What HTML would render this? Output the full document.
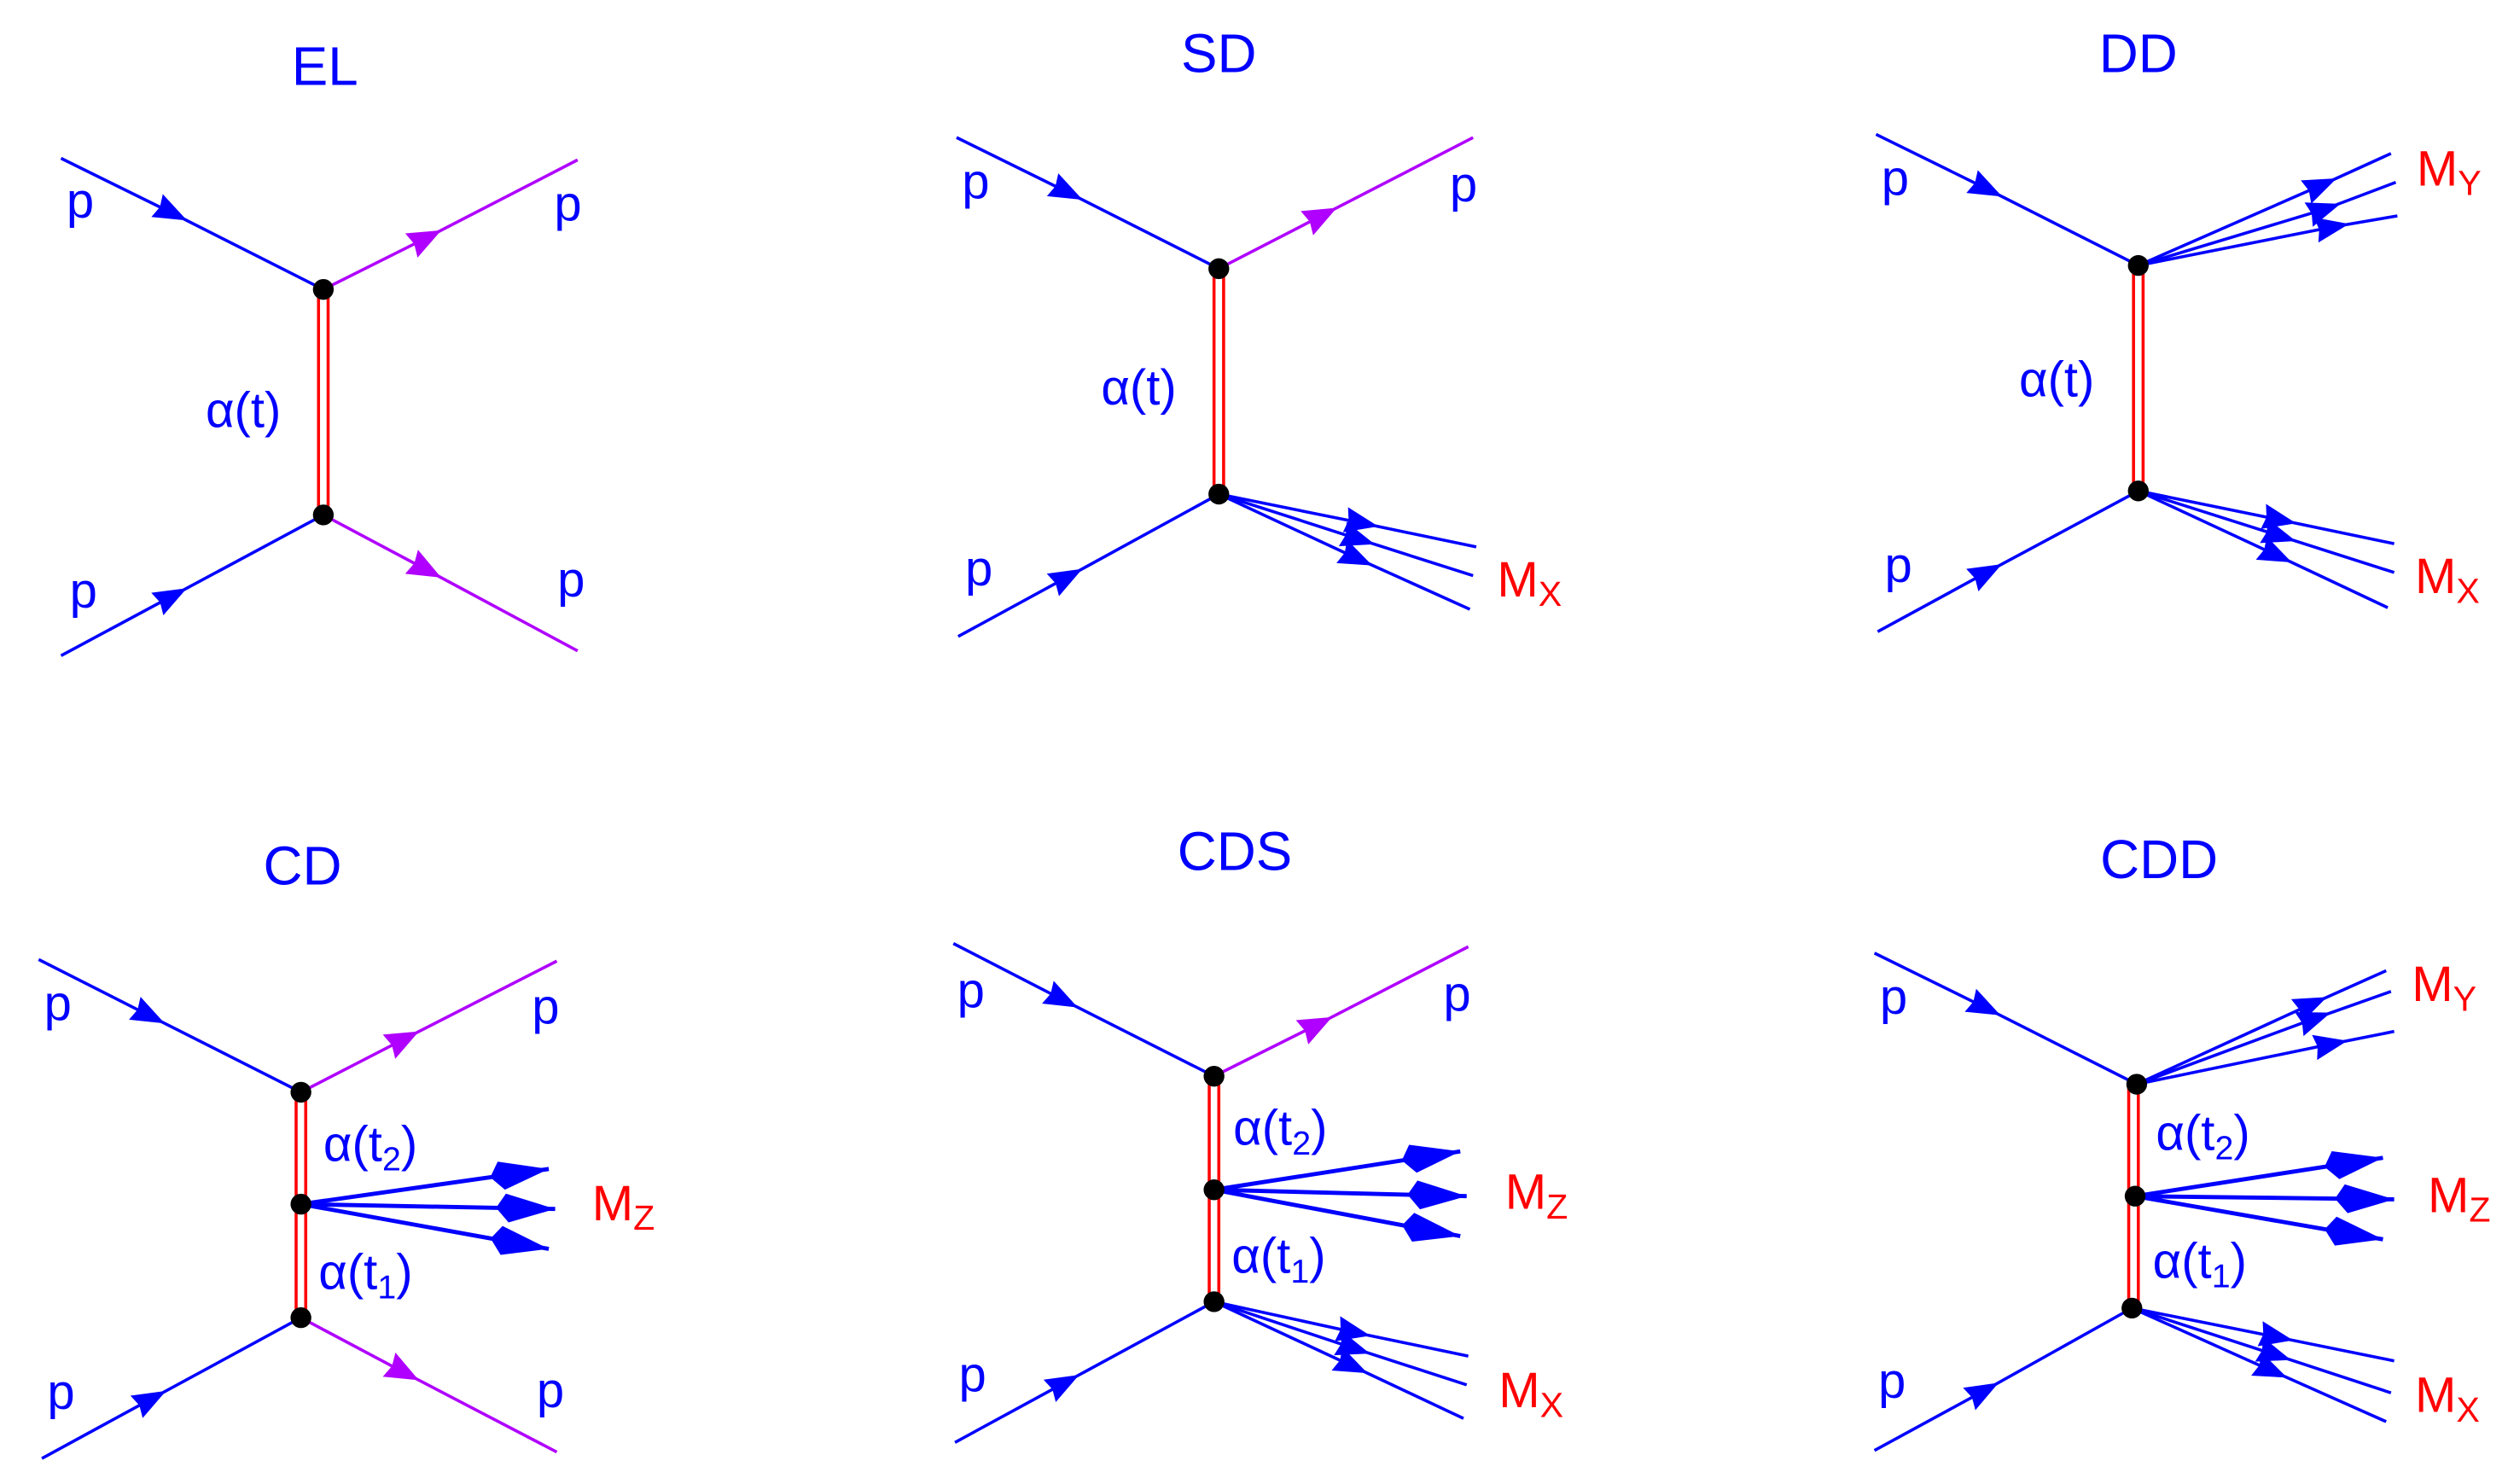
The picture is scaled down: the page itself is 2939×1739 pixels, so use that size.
<!DOCTYPE html>
<html><head><meta charset="utf-8"><style>
html,body{margin:0;padding:0;background:#fff;}
svg{display:block;}
text{font-family:"Liberation Sans",sans-serif;}
</style></head><body>
<svg width="2939" height="1739" viewBox="0 0 1568 928" xmlns="http://www.w3.org/2000/svg">
<defs>
<marker id="ab" markerUnits="userSpaceOnUse" markerWidth="40" markerHeight="40" refX="0" refY="0" viewBox="-20 -20 40 40" orient="auto" overflow="visible"><path d="M-10,-8 L11,0 L-10,8 L-8,0 z" fill="#0000ff" stroke="none"/></marker>
<marker id="ap" markerUnits="userSpaceOnUse" markerWidth="40" markerHeight="40" refX="0" refY="0" viewBox="-20 -20 40 40" orient="auto" overflow="visible"><path d="M-10,-8.5 L11,0 L-10,8.5 L-8,0 z" fill="#b000ff" stroke="none"/></marker>
<marker id="abig" markerUnits="userSpaceOnUse" markerWidth="80" markerHeight="80" refX="0" refY="0" viewBox="-40 -40 80 80" orient="auto" overflow="visible"><path d="M-37,0 L-31,-9 L0,0 L-29,9 z" fill="#0000ff" stroke="none"/></marker>
</defs>
<g fill="none" stroke-width="1.9">
<!-- EL -->
<polyline points="38,99 107,133 202,181" stroke="#0000ff" marker-mid="url(#ab)"/>
<polyline points="202,181 266,149 361,100" stroke="#b000ff" marker-mid="url(#ap)"/>
<polyline points="38,410 107,373 202,322" stroke="#0000ff" marker-mid="url(#ab)"/>
<polyline points="202,322 266,356 361,407" stroke="#b000ff" marker-mid="url(#ap)"/>
<line x1="199" y1="181" x2="199" y2="322" stroke="#ff0000"/><line x1="205" y1="181" x2="205" y2="322" stroke="#ff0000"/>
<!-- SD -->
<polyline points="598,86 667,120 762,168" stroke="#0000ff" marker-mid="url(#ab)"/>
<polyline points="762,168 826,135 921,86" stroke="#b000ff" marker-mid="url(#ap)"/>
<polyline points="599,398 667,361 762,309" stroke="#0000ff" marker-mid="url(#ab)"/>
<polyline points="762,309 851,327 923,342" stroke="#0000ff" marker-mid="url(#ab)"/>
<polyline points="762,309 849,337 921,360" stroke="#0000ff" marker-mid="url(#ab)"/>
<polyline points="762,309 848,349 919,381" stroke="#0000ff" marker-mid="url(#ab)"/>
<line x1="759" y1="168" x2="759" y2="309" stroke="#ff0000"/><line x1="765" y1="168" x2="765" y2="309" stroke="#ff0000"/>
<!-- DD -->
<polyline points="1173,84 1242,118 1337,166" stroke="#0000ff" marker-mid="url(#ab)"/>
<polyline points="1337,166 1451,116 1495,96" stroke="#0000ff" marker-mid="url(#ab)"/>
<polyline points="1337,166 1453,131 1498,114" stroke="#0000ff" marker-mid="url(#ab)"/>
<polyline points="1337,166 1458,142 1499,135" stroke="#0000ff" marker-mid="url(#ab)"/>
<polyline points="1174,395 1242,358 1337,307" stroke="#0000ff" marker-mid="url(#ab)"/>
<polyline points="1337,307 1425,325 1497,340" stroke="#0000ff" marker-mid="url(#ab)"/>
<polyline points="1337,307 1425,335 1497,358" stroke="#0000ff" marker-mid="url(#ab)"/>
<polyline points="1337,307 1423,347 1493,380" stroke="#0000ff" marker-mid="url(#ab)"/>
<line x1="1334" y1="166" x2="1334" y2="307" stroke="#ff0000"/><line x1="1340" y1="166" x2="1340" y2="307" stroke="#ff0000"/>
<!-- CD -->
<polyline points="24,600 93,635 188,683" stroke="#0000ff" marker-mid="url(#ab)"/>
<polyline points="188,683 252,650 348,601" stroke="#b000ff" marker-mid="url(#ap)"/>
<line x1="188" y1="753" x2="343" y2="731" stroke="#0000ff" stroke-width="2.6" marker-end="url(#abig)"/>
<line x1="188" y1="753" x2="347" y2="756" stroke="#0000ff" stroke-width="2.6" marker-end="url(#abig)"/>
<line x1="188" y1="753" x2="343" y2="781" stroke="#0000ff" stroke-width="2.6" marker-end="url(#abig)"/>
<polyline points="26,912 94,875 188,824" stroke="#0000ff" marker-mid="url(#ab)"/>
<polyline points="188,824 252,858 348,908" stroke="#b000ff" marker-mid="url(#ap)"/>
<line x1="185" y1="683" x2="185" y2="824" stroke="#ff0000"/><line x1="191" y1="683" x2="191" y2="824" stroke="#ff0000"/>
<!-- CDS -->
<polyline points="596,590 664,625 759,673" stroke="#0000ff" marker-mid="url(#ab)"/>
<polyline points="759,673 823,641 918,592" stroke="#b000ff" marker-mid="url(#ap)"/>
<line x1="759" y1="744" x2="913" y2="720" stroke="#0000ff" stroke-width="2.6" marker-end="url(#abig)"/>
<line x1="759" y1="744" x2="917" y2="748" stroke="#0000ff" stroke-width="2.6" marker-end="url(#abig)"/>
<line x1="759" y1="744" x2="913" y2="773" stroke="#0000ff" stroke-width="2.6" marker-end="url(#abig)"/>
<polyline points="597,902 665,865 759,814" stroke="#0000ff" marker-mid="url(#ab)"/>
<polyline points="759,814 846,833 918,848" stroke="#0000ff" marker-mid="url(#ab)"/>
<polyline points="759,814 846,843 917,866" stroke="#0000ff" marker-mid="url(#ab)"/>
<polyline points="759,814 845,854 915,887" stroke="#0000ff" marker-mid="url(#ab)"/>
<line x1="756" y1="673" x2="756" y2="814" stroke="#ff0000"/><line x1="762" y1="673" x2="762" y2="814" stroke="#ff0000"/>
<!-- CDD -->
<polyline points="1172,596 1241,630 1336,678" stroke="#0000ff" marker-mid="url(#ab)"/>
<polyline points="1336,678 1445,628 1492,607" stroke="#0000ff" marker-mid="url(#ab)"/>
<polyline points="1336,678 1447,637 1495,620" stroke="#0000ff" marker-mid="url(#ab)"/>
<polyline points="1336,678 1457,653 1497,645" stroke="#0000ff" marker-mid="url(#ab)"/>
<line x1="1335" y1="748" x2="1490" y2="724" stroke="#0000ff" stroke-width="2.6" marker-end="url(#abig)"/>
<line x1="1335" y1="748" x2="1497" y2="750" stroke="#0000ff" stroke-width="2.6" marker-end="url(#abig)"/>
<line x1="1335" y1="748" x2="1490" y2="775" stroke="#0000ff" stroke-width="2.6" marker-end="url(#abig)"/>
<polyline points="1172,907 1240,870 1333,818" stroke="#0000ff" marker-mid="url(#ab)"/>
<polyline points="1333,818 1423,836 1497,851" stroke="#0000ff" marker-mid="url(#ab)"/>
<polyline points="1333,818 1422,847 1495,871" stroke="#0000ff" marker-mid="url(#ab)"/>
<polyline points="1333,818 1420,857 1492,889" stroke="#0000ff" marker-mid="url(#ab)"/>
<line x1="1331" y1="678" x2="1331" y2="818" stroke="#ff0000"/><line x1="1337" y1="678" x2="1337" y2="818" stroke="#ff0000"/>
</g>
<g fill="#000">
<circle cx="202" cy="181" r="6.5"/><circle cx="202" cy="322" r="6.5"/>
<circle cx="762" cy="168" r="6.5"/><circle cx="762" cy="309" r="6.5"/>
<circle cx="1337" cy="166" r="6.5"/><circle cx="1337" cy="307" r="6.5"/>
<circle cx="188" cy="683" r="6.5"/><circle cx="188" cy="753" r="6.5"/><circle cx="188" cy="824" r="6.5"/>
<circle cx="759" cy="673" r="6.5"/><circle cx="759" cy="744" r="6.5"/><circle cx="759" cy="814" r="6.5"/>
<circle cx="1336" cy="678" r="6.5"/><circle cx="1335" cy="748" r="6.5"/><circle cx="1333" cy="818" r="6.5"/>
</g>
<g fill="#0000ff" font-size="34" text-anchor="middle">
<text x="203" y="53">EL</text><text x="762" y="45">SD</text><text x="1337" y="45">DD</text>
<text x="189" y="553">CD</text><text x="772" y="544">CDS</text><text x="1350" y="549">CDD</text>
</g>
<g fill="#0000ff" font-size="31" text-anchor="middle">
<text x="50" y="136">p</text><text x="355" y="138">p</text><text x="52" y="380">p</text><text x="357" y="373">p</text>
<text x="152" y="267">α(t)</text>
<text x="610" y="124">p</text><text x="915" y="126">p</text><text x="612" y="366">p</text>
<text x="712" y="253">α(t)</text>
<text x="1185" y="122">p</text><text x="1187" y="364">p</text>
<text x="1286" y="248">α(t)</text>
<text x="36" y="638">p</text><text x="341" y="640">p</text><text x="38" y="881">p</text><text x="344" y="880">p</text>
<text x="607" y="630">p</text><text x="911" y="632">p</text><text x="608" y="870">p</text>
<text x="1184" y="634">p</text><text x="1183" y="874">p</text>
</g>
<g fill="#0000ff" font-size="31">
<text x="202" y="726">α(t<tspan font-size="21" dy="6">2</tspan><tspan dy="-6">)</tspan></text>
<text x="199" y="806">α(t<tspan font-size="21" dy="6">1</tspan><tspan dy="-6">)</tspan></text>
<text x="771" y="716">α(t<tspan font-size="21" dy="6">2</tspan><tspan dy="-6">)</tspan></text>
<text x="770" y="796">α(t<tspan font-size="21" dy="6">1</tspan><tspan dy="-6">)</tspan></text>
<text x="1348" y="719">α(t<tspan font-size="21" dy="6">2</tspan><tspan dy="-6">)</tspan></text>
<text x="1346" y="799">α(t<tspan font-size="21" dy="6">1</tspan><tspan dy="-6">)</tspan></text>
</g>
<g fill="#ff0000" font-size="31">
<text x="936" y="373">M<tspan font-size="22" dy="6">X</tspan></text>
<text x="1511" y="116">M<tspan font-size="22" dy="6">Y</tspan></text>
<text x="1510" y="371">M<tspan font-size="22" dy="6">X</tspan></text>
<text x="370" y="763">M<tspan font-size="22" dy="6">Z</tspan></text>
<text x="941" y="756">M<tspan font-size="22" dy="6">Z</tspan></text>
<text x="937" y="880">M<tspan font-size="22" dy="6">X</tspan></text>
<text x="1508" y="626">M<tspan font-size="22" dy="6">Y</tspan></text>
<text x="1518" y="758">M<tspan font-size="22" dy="6">Z</tspan></text>
<text x="1510" y="883">M<tspan font-size="22" dy="6">X</tspan></text>
</g>
</svg>
</body></html>
